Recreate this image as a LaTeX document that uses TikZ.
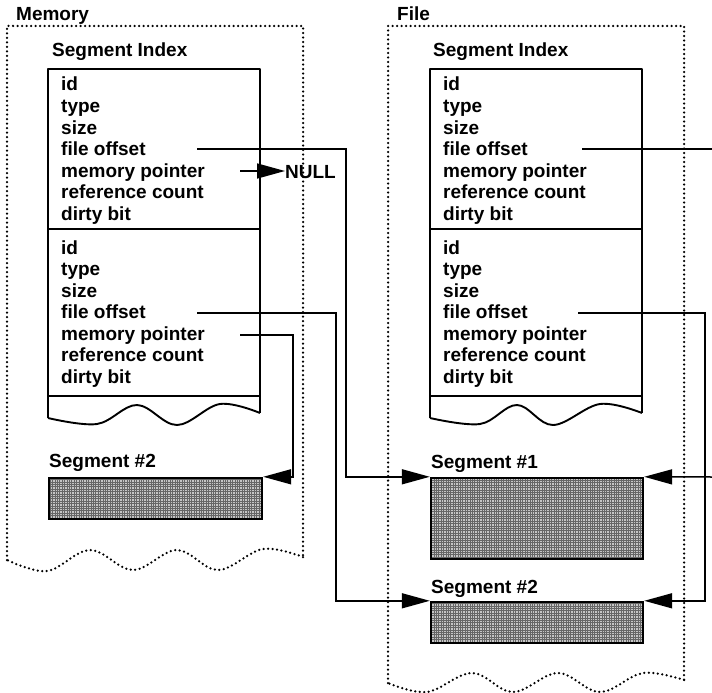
\documentclass[tikz,border=0pt]{standalone}
\usepackage{fontspec}
\setmainfont{Liberation Sans}
\usetikzlibrary{arrows.meta}
\begin{document}
\begin{tikzpicture}[x=1pt,y=-1pt,
  txt/.style={anchor=base west, inner sep=0pt, font=\fontsize{19}{21.5}\selectfont\bfseries},
  solidbox/.style={line width=1.9pt, line join=round},
  dotbox/.style={line width=2.5pt, line cap=round, dash pattern=on 0pt off 4.5pt},
  conn/.style={line width=1.5pt},
  arr/.style={conn, -{Triangle[length=28pt,width=15pt]}},
  seg/.style={draw, line width=2.4pt, fill=gray!45, inner sep=0pt,
    path picture={\draw[black!60, line width=0.4pt, step=2.4pt]
      (path picture bounding box.south west) grid (path picture bounding box.north east);}},
]
\useasboundingbox (0,0) rectangle (712,693);

% ---------- Memory ----------
\node[txt] (memlbl) at (16,21) {Memory};
\draw[dotbox] (7,560) -- (7,26) -- (303,26) -- (303,557);
\draw[dotbox] plot[smooth, tension=0.6] coordinates {(303,557) (263,549) (218,570) (177,550) (133,570) (90,550) (47,571) (7,560)};

\node[txt] (memsi) at (52,57) {Segment Index};
\draw[solidbox] (48,418) -- (48,69) -- (260,69) -- (260,413);
\draw[solidbox] plot[smooth, tension=0.6] coordinates {(48,418) (97,424) (137,405) (177,425) (220,404) (260,413)};
\draw[solidbox] (48,229) -- (260,229);
\draw[solidbox] (48,396) -- (260,396);

\foreach \t [count=\i from 0] in {id,type,size,file offset,memory pointer,reference count,dirty bit} {
  \node[txt] (ma\i) at (61,{91+21.5*\i}) {\t};
  \node[txt] (mb\i) at (61,{254+21.5*\i}) {\t};
}

\node[txt] (null) at (285,178) {NULL};
\node[txt] (mseg2lbl) at (49,467) {Segment \#2};
\node[seg, minimum width=213pt, minimum height=41pt] (mseg2) at (155.5,498.5) {};

% ---------- File ----------
\node[txt] (filelbl) at (397,21) {File};
\draw[dotbox] (388,683) -- (388,26) -- (684,26) -- (684,680);
\draw[dotbox] plot[smooth, tension=0.6] coordinates {(684,680) (643,673) (600,692) (558,673) (513,692) (472,673) (427,692) (388,683)};

\node[txt] (filesi) at (433,57) {Segment Index};
\draw[solidbox] (430,418) -- (430,69) -- (642,69) -- (642,413);
\draw[solidbox] plot[smooth, tension=0.6] coordinates {(430,418) (480,424) (517,405) (553,425) (600,404) (642,413)};
\draw[solidbox] (430,229) -- (642,229);
\draw[solidbox] (430,396) -- (642,396);

\foreach \t [count=\i from 0] in {id,type,size,file offset,memory pointer,reference count,dirty bit} {
  \node[txt] (fa\i) at (443,{91+21.5*\i}) {\t};
  \node[txt] (fb\i) at (443,{254+21.5*\i}) {\t};
}

\node[txt] (fseg1lbl) at (431,468) {Segment \#1};
\node[seg, minimum width=212pt, minimum height=81pt] (fseg1) at (537,518.5) {};
\node[txt] (fseg2lbl) at (431,593) {Segment \#2};
\node[seg, minimum width=212pt, minimum height=41pt] (fseg2) at (537,622.5) {};

% ---------- connectors ----------
\coordinate (mfo1) at (197,149);
\coordinate (mmp1) at (240,171);
\coordinate (mfo2) at (197,313);
\coordinate (mmp2) at (240,335);
\coordinate (ffo1) at (582,149);
\coordinate (ffo2) at (578,313);
\coordinate (fend1) at (712,149);
\coordinate (fend2) at (712,477);

\draw[arr] (mmp1) -- (mmp1 -| null.west);
\draw[arr] (mfo1) -- ++(149,0) |- (fseg1.north west);
\draw[arr] (mfo2) -- ++(139,0) |- (fseg2.north west);
\draw[arr] (mmp2) -- ++(53,0) |- (mseg2.north east);
\draw[conn] (ffo1) -- (fend1);
\draw[arr] (fend2) -- (fseg1.north east);
\draw[arr] (ffo2) -- ++(127,0) |- (fseg2.north east);
\end{tikzpicture}
\end{document}
